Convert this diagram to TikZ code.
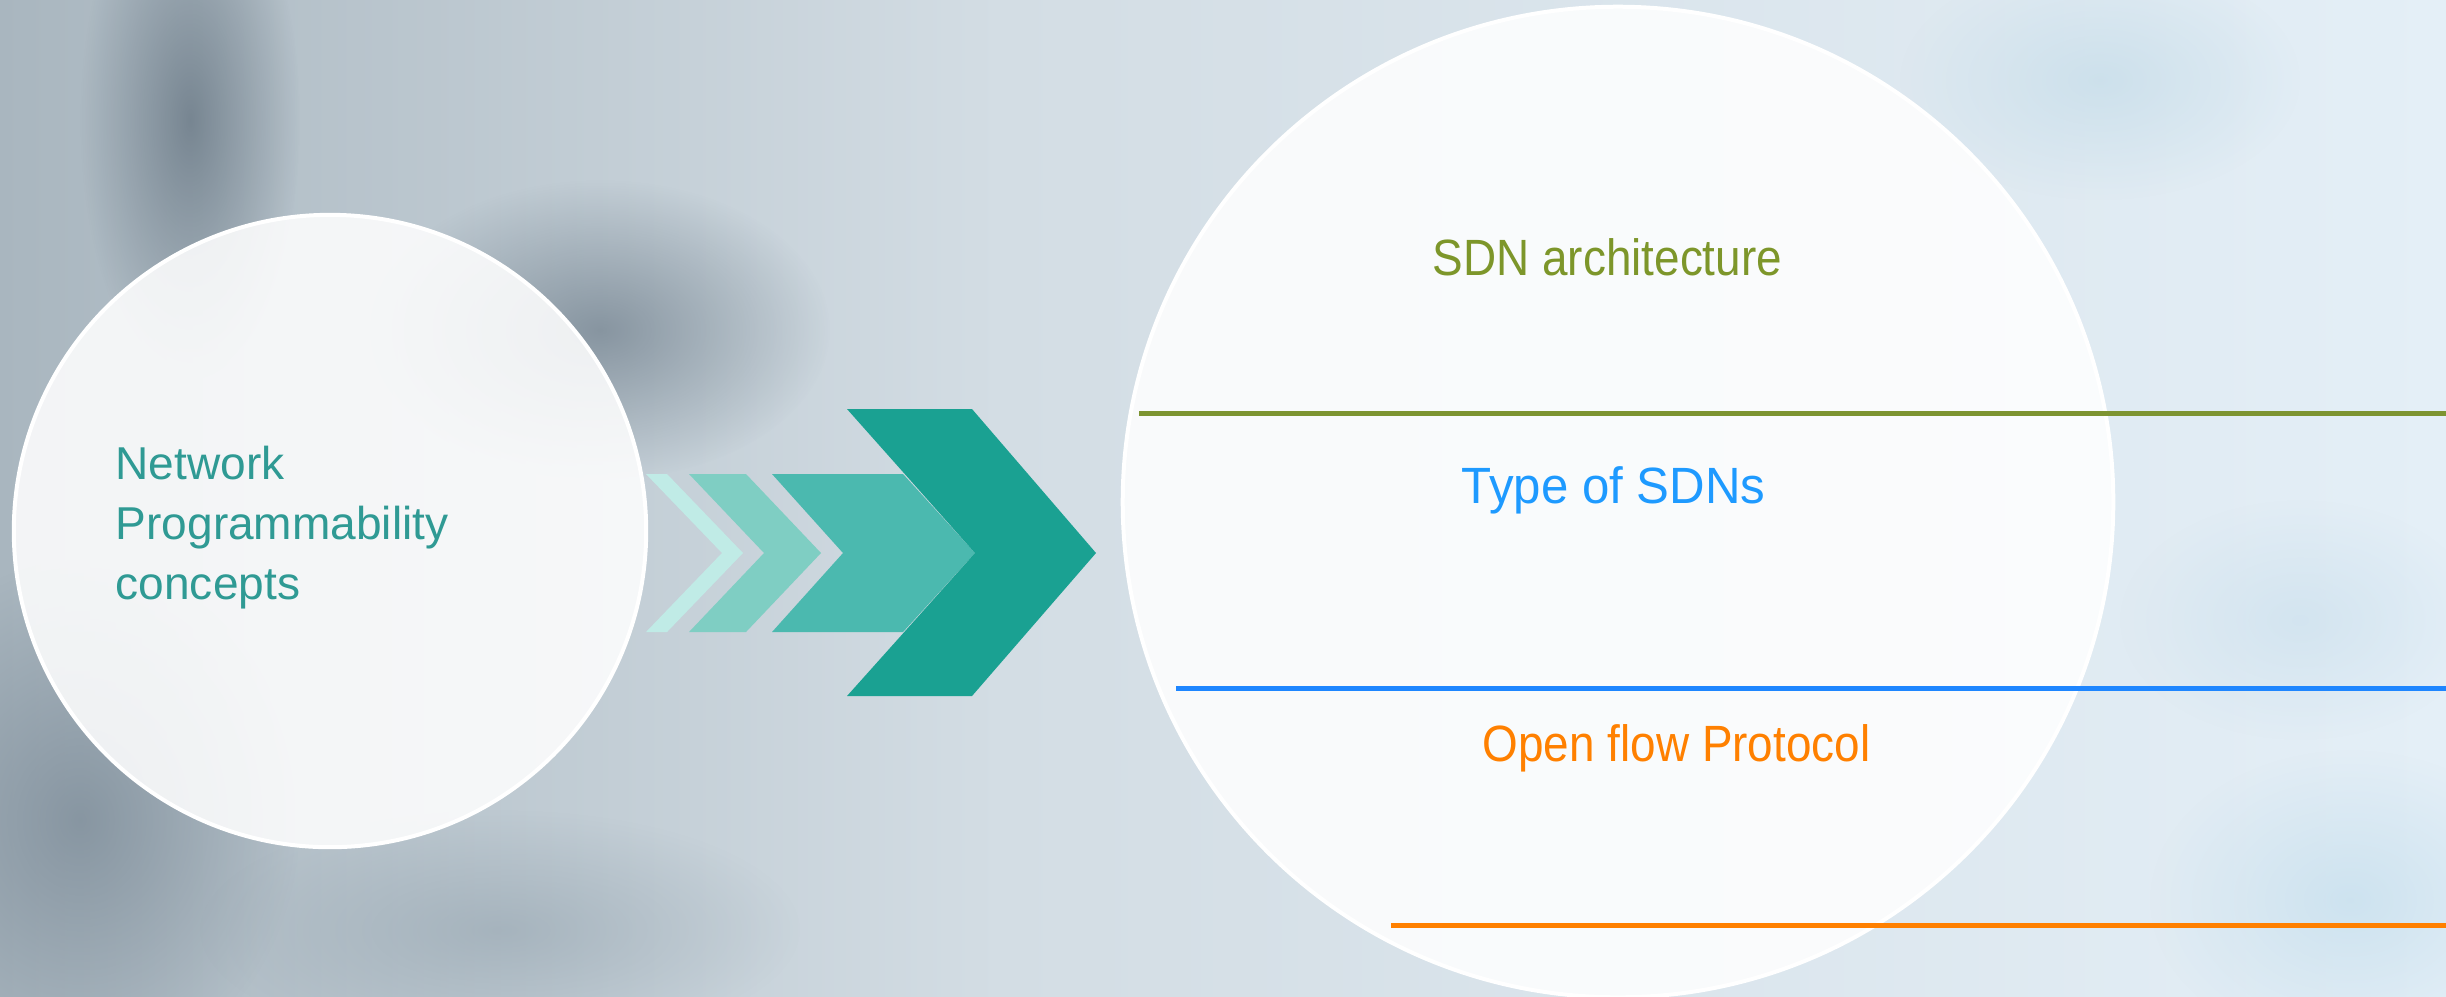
\documentclass[tikz,border=0pt]{standalone}
\usepackage{fontspec}
\setmainfont{Liberation Sans}
\newfontfamily\condA[FakeStretch=0.90]{Liberation Sans}
\newfontfamily\condB[FakeStretch=0.965]{Liberation Sans}
\usetikzlibrary{fadings}
\tikzfading[name=fuzzy, inner color=transparent!0, outer color=transparent!100]
\definecolor{bgL}{HTML}{A9B6BF}
\definecolor{bgM}{HTML}{D3DDE4}
\definecolor{bgR}{HTML}{E4EFF7}
\definecolor{teal1}{HTML}{C0EBE6}
\definecolor{teal2}{HTML}{7FCEC3}
\definecolor{teal3}{HTML}{4BB9AF}
\definecolor{teal4}{HTML}{1AA192}
\definecolor{txtteal}{HTML}{2F9A94}
\definecolor{olive}{HTML}{7D962A}
\definecolor{lineolive}{HTML}{7D9431}
\definecolor{skyblue}{HTML}{1E9AFF}
\definecolor{lineblue}{HTML}{1E86FF}
\definecolor{orangeC}{HTML}{FF8000}
\tikzset{
  bubble/.style={circle, draw=white, line width=0.04cm, fill=white, fill opacity=0.86, text opacity=1, inner sep=0pt},
  lefttxt/.style={anchor=base west, inner sep=0pt, text=txtteal, font=\fontsize{13.1pt}{16pt}\selectfont},
  righttxt/.style={anchor=base west, inner sep=0pt, font=\condA\fontsize{14.5pt}{17pt}\selectfont},
  divider/.style={line width=0.05cm},
  blob/.style={path fading=fuzzy}
}
\begin{document}
\begin{tikzpicture}[x=0.01cm,y=-0.01cm]
\useasboundingbox (0,0) rectangle (2446,996);
% background
\shade[left color=bgL, right color=bgM] (0,0) rectangle (1000,996);
\shade[left color=bgM, right color=bgR] (1000,0) rectangle (2446,996);
\fill[blob, color={rgb,255:red,100;green,115;blue,128}, fill opacity=0.75] (190,120) ellipse [x radius=110, y radius=260];
\fill[blob, color={rgb,255:red,110;green,125;blue,138}, fill opacity=0.7] (600,330) ellipse [x radius=230, y radius=150];
\fill[blob, color={rgb,255:red,120;green,135;blue,148}, fill opacity=0.7] (80,820) ellipse [x radius=220, y radius=260];
\fill[blob, color={rgb,255:red,150;green,165;blue,176}, fill opacity=0.6] (500,930) ellipse [x radius=300, y radius=120];
\fill[blob, color={rgb,255:red,200;green,222;blue,234}, fill opacity=0.8] (2100,80) ellipse [x radius=200, y radius=120];
\fill[blob, color={rgb,255:red,200;green,224;blue,238}, fill opacity=0.8] (2350,900) ellipse [x radius=200, y radius=150];
\fill[blob, color={rgb,255:red,205;green,225;blue,238}, fill opacity=0.7] (2300,620) ellipse [x radius=180, y radius=120];
% circles
\node[bubble, minimum size=6.32cm] (left) at (330,531) {};
\node[bubble, minimum size=9.9cm] (right) at (1618,502) {};
% chevrons
\fill[teal1] (646,474) -- (667,474) -- (743,553) -- (667,632) -- (646,632) -- (722,553) -- cycle;
\fill[teal2] (689,474) -- (746,474) -- (821,553) -- (746,632) -- (689,632) -- (764,553) -- cycle;
\fill[teal3] (772,474) -- (903,474) -- (975,553) -- (903,632) -- (772,632) -- (843,553) -- cycle;
\fill[teal4] (847,409) -- (972,409) -- (1096,553) -- (972,696) -- (847,696) -- (975,553) -- cycle;
% left text
\node[lefttxt] (t1) at (115,479) {Network};
\node[lefttxt] (t2) at (115,539) {Programmability};
\node[lefttxt] (t3) at (115,599) {concepts};
% right texts
\node[righttxt, text=olive] (s1) at (1432,275) {SDN architecture};
\node[righttxt, text=skyblue, font=\condB\fontsize{14.5pt}{17pt}\selectfont] (s2) at (1461,503) {Type of SDNs};
\node[righttxt, text=orangeC] (s3) at (1482,761) {Open flow Protocol};
% dividers
\coordinate (g1) at (1139,413); \coordinate (g2) at (2446,413);
\coordinate (b1) at (1176,688); \coordinate (b2) at (2446,688);
\coordinate (o1) at (1391,925); \coordinate (o2) at (2446,925);
\draw[divider, lineolive] (g1) -- (g2);
\draw[divider, lineblue] (b1) -- (b2);
\draw[divider, orangeC] (o1) -- (o2);
\end{tikzpicture}
\end{document}
